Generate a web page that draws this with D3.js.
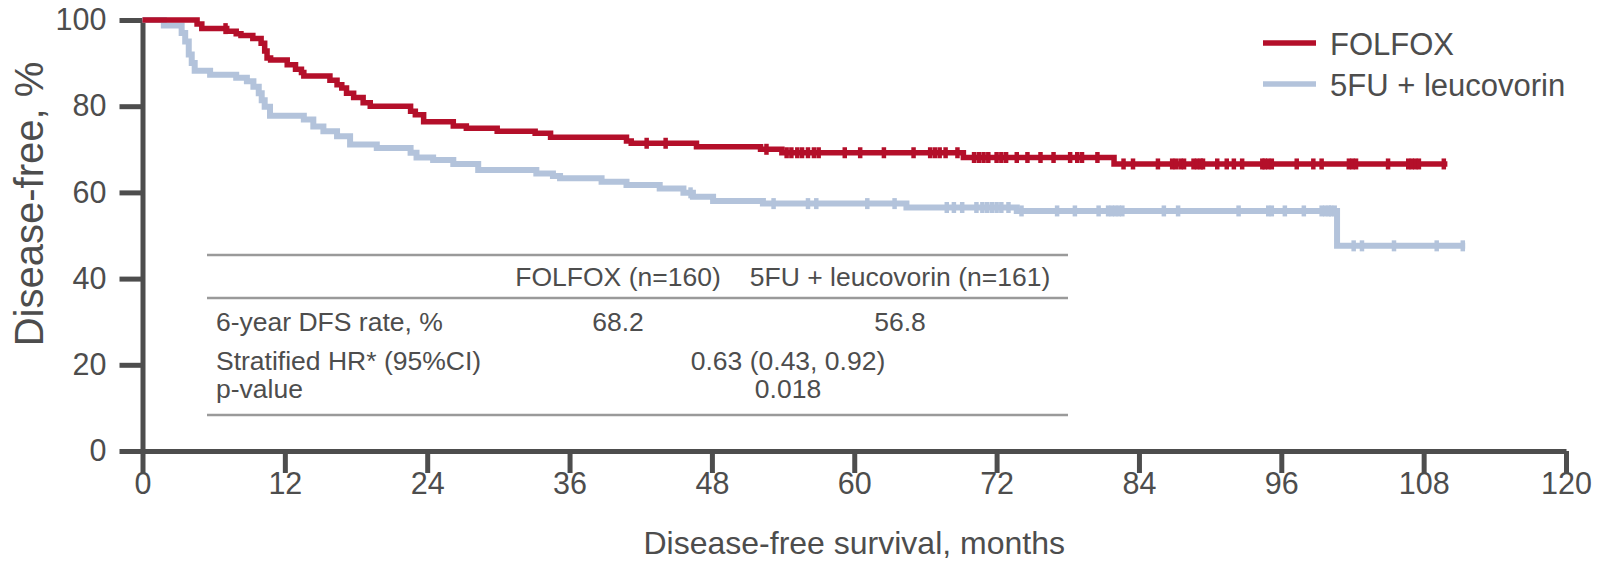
<!DOCTYPE html>
<html>
<head>
<meta charset="utf-8">
<script src="https://cdn.jsdelivr.net/npm/d3@7"></script>
<style>
  html, body { margin: 0; padding: 0; background: #fff; }
  svg { display: block; font-family: "Liberation Sans", Arial, sans-serif; }
</style>
</head>
<body>
<div id="chart"></div>
<script>
// KM steps: [month, disease-free % after the event]
const folfoxSteps = [
  [0, 100], [4.6, 99.1], [5.0, 98.0], [7.1, 97.4], [7.9, 96.8], [8.3, 96.4], [9.3, 95.7],
  [10.0, 94.6], [10.3, 92.8], [10.5, 91.2], [10.8, 90.7], [12.2, 89.6], [12.9, 88.6],
  [13.4, 87.8], [13.6, 87.0], [15.8, 86.0], [16.4, 85.0], [16.8, 84.2], [17.2, 83.0],
  [17.8, 82.0], [18.6, 80.8], [19.2, 80.0], [22.6, 78.8], [23.0, 78.0], [23.7, 76.4],
  [26.2, 75.4], [27.3, 74.9], [29.9, 74.2], [33.1, 73.7], [34.4, 72.8], [40.8, 71.9],
  [41.2, 71.4], [46.7, 70.6], [52.1, 70.0], [53.9, 69.2], [69.2, 68.1], [81.9, 66.6]
]
const folfoxEnd = 110.0
const folfoxCensor = [
  7.0, 42.5, 44.1, 52.6, 54.3, 54.7, 55.2, 55.6, 56.1, 56.6, 57.0, 59.2, 60.5, 62.5, 65.0,
  66.4, 66.8, 67.2, 67.7, 68.7, 70.1, 70.5, 70.9, 71.3, 72.0, 72.4, 72.8, 73.7, 74.6, 75.7,
  76.8, 78.2, 78.8, 79.2, 80.5, 82.7, 83.5, 85.6, 86.8, 87.1, 87.5, 87.8, 88.6, 88.9, 89.2,
  89.4, 90.6, 91.4, 92.0, 92.7, 94.4, 94.6, 94.9, 95.2, 97.3, 98.7, 99.4, 101.7, 102.0,
  102.3, 105.0, 106.7, 107.0, 107.3, 107.6, 109.7
]

const fuSteps = [
  [0, 100], [1.8, 98.7], [3.3, 97.0], [3.6, 95.0], [3.9, 92.0], [4.15, 90.0], [4.4, 88.2],
  [5.7, 87.3], [7.9, 86.6], [8.8, 85.8], [9.35, 84.5], [9.8, 83.0], [10.05, 81.4],
  [10.3, 79.9], [10.75, 77.8], [13.6, 76.9], [14.4, 75.3], [15.25, 74.2], [16.4, 73.0],
  [17.5, 71.1], [19.75, 70.3], [22.6, 69.2], [23.1, 68.1], [24.5, 67.5], [26.2, 66.6],
  [28.3, 65.2], [33.2, 64.4], [34.6, 63.8], [35.2, 63.3], [38.7, 62.5], [40.8, 61.7],
  [43.6, 60.9], [45.6, 59.9], [46.4, 59.0], [48.1, 58.0], [52.3, 57.4], [64.4, 56.5],
  [73.7, 55.7], [100.7, 47.6]
]
const fuEnd = 111.5
const fuCensor = [
  46.2, 53.2, 56.1, 56.8, 61.1, 63.4, 67.8, 68.4, 69.1, 70.3, 70.8, 71.2, 71.6, 72.0, 72.4,
  73.0, 74.1, 77.1, 78.6, 80.6, 81.4, 81.7, 82.0, 82.3, 82.6, 86.1, 87.3, 92.4, 94.9, 95.2,
  96.3, 97.9, 99.4, 99.7, 100.0, 100.2, 100.5, 102.1, 102.8, 105.5, 109.1, 111.3
]

const xTicks = [0, 12, 24, 36, 48, 60, 72, 84, 96, 108, 120]
const yTicks = [0, 20, 40, 60, 80, 100]

const seriesNames = ["FOLFOX", "5FU + leucovorin"]
const tableHeader = ["FOLFOX (n=160)", "5FU + leucovorin (n=161)"]
const dfsRates = ["68.2", "56.8"]
const hrText = "0.63 (0.43, 0.92)"
const pText = "0.018"

const width = 1600, height = 562
const red = "#b40f2a", blue = "#b3c3db", ink = "#4d4d4d"

const svg = d3.select("#chart").append("svg")
  .attr("width", width).attr("height", height)
  .attr("viewBox", [0, 0, width, height])

const x = d3.scaleLinear().domain([0, 120]).range([142.5, 1566])
const y = d3.scaleLinear().domain([0, 100]).range([451, 20])

// Ejes
const yAxis = svg.append("g")
  .attr("transform", `translate(${x(0)},0)`)
  .call(d3.axisLeft(y).tickValues(yTicks).tickSize(23).tickSizeOuter(0).tickPadding(13))
const xAxis = svg.append("g")
  .attr("transform", `translate(0,${y(0)})`)
  .call(d3.axisBottom(x).tickValues(xTicks).tickSize(22).tickSizeOuter(0).tickPadding(0))

svg.selectAll(".domain, .tick line")
  .attr("stroke", ink).attr("stroke-width", 5)
svg.selectAll(".tick text")
  .attr("fill", ink).style("font-size", "30.5px")
  .style("font-family", '"Liberation Sans", Arial, sans-serif')
xAxis.selectAll(".tick text").attr("y", 21).attr("dy", "0.71em")

svg.append("text")
  .attr("x", (x(0) + x(120)) / 2).attr("y", 554)
  .attr("text-anchor", "middle").attr("fill", ink).style("font-size", "32px")
  .text("Disease-free survival, months")
svg.append("text")
  .attr("transform", `translate(43,204) rotate(-90)`)
  .attr("text-anchor", "middle").attr("fill", ink).style("font-size", "40px")
  .text("Disease-free, %")

// Curvas
const line = d3.line().x(d => x(d[0])).y(d => y(d[1])).curve(d3.curveStepAfter)
const survAt = (steps, t) => steps[d3.bisector(d => d[0]).right(steps, t) - 1][1]

function drawArm(steps, end, censor, color, w) {
  const pts = steps.concat([[end, steps[steps.length - 1][1]]])
  svg.append("path").datum(pts)
    .attr("d", line).attr("fill", "none")
    .attr("stroke", color).attr("stroke-width", w)
  svg.append("g").selectAll("line")
    .data(censor).join("line")
    .attr("x1", d => x(d)).attr("x2", d => x(d))
    .attr("y1", d => y(survAt(steps, d)) - 5.5)
    .attr("y2", d => y(survAt(steps, d)) + 5.5)
    .attr("stroke", color).attr("stroke-width", 4.5)
}
drawArm(fuSteps, fuEnd, fuCensor, blue, 6)
drawArm(folfoxSteps, folfoxEnd, folfoxCensor, red, 5.5)

// Leyenda
const legend = svg.append("g")
;[red, blue].forEach((c, i) => {
  const ly = 43 + i * 41
  legend.append("line")
    .attr("x1", 1263).attr("x2", 1316).attr("y1", ly).attr("y2", ly)
    .attr("stroke", c).attr("stroke-width", 5.5)
  legend.append("text")
    .attr("x", 1330).attr("y", ly + 12)
    .attr("fill", ink).style("font-size", "31px")
    .text(seriesNames[i])
})

// Tabla
const table = svg.append("g").attr("fill", ink).style("font-size", "26.5px")
;[255, 298, 415].forEach(ty => {
  table.append("line")
    .attr("x1", 207).attr("x2", 1068).attr("y1", ty).attr("y2", ty)
    .attr("stroke", "#9a9a9a").attr("stroke-width", 2.5)
})
const col1 = 618, col2 = 900, colMid = 788
table.append("text").attr("x", col1).attr("y", 286).attr("text-anchor", "middle").text(tableHeader[0])
table.append("text").attr("x", col2).attr("y", 286).attr("text-anchor", "middle").text(tableHeader[1])
table.append("text").attr("x", 216).attr("y", 331).text("6-year DFS rate, %")
table.append("text").attr("x", col1).attr("y", 331).attr("text-anchor", "middle").text(dfsRates[0])
table.append("text").attr("x", col2).attr("y", 331).attr("text-anchor", "middle").text(dfsRates[1])
table.append("text").attr("x", 216).attr("y", 370).text("Stratified HR* (95%CI)")
table.append("text").attr("x", colMid).attr("y", 370).attr("text-anchor", "middle").text(hrText)
table.append("text").attr("x", 216).attr("y", 398).text("p-value")
table.append("text").attr("x", colMid).attr("y", 398).attr("text-anchor", "middle").text(pText)
</script>
</body>
</html>
